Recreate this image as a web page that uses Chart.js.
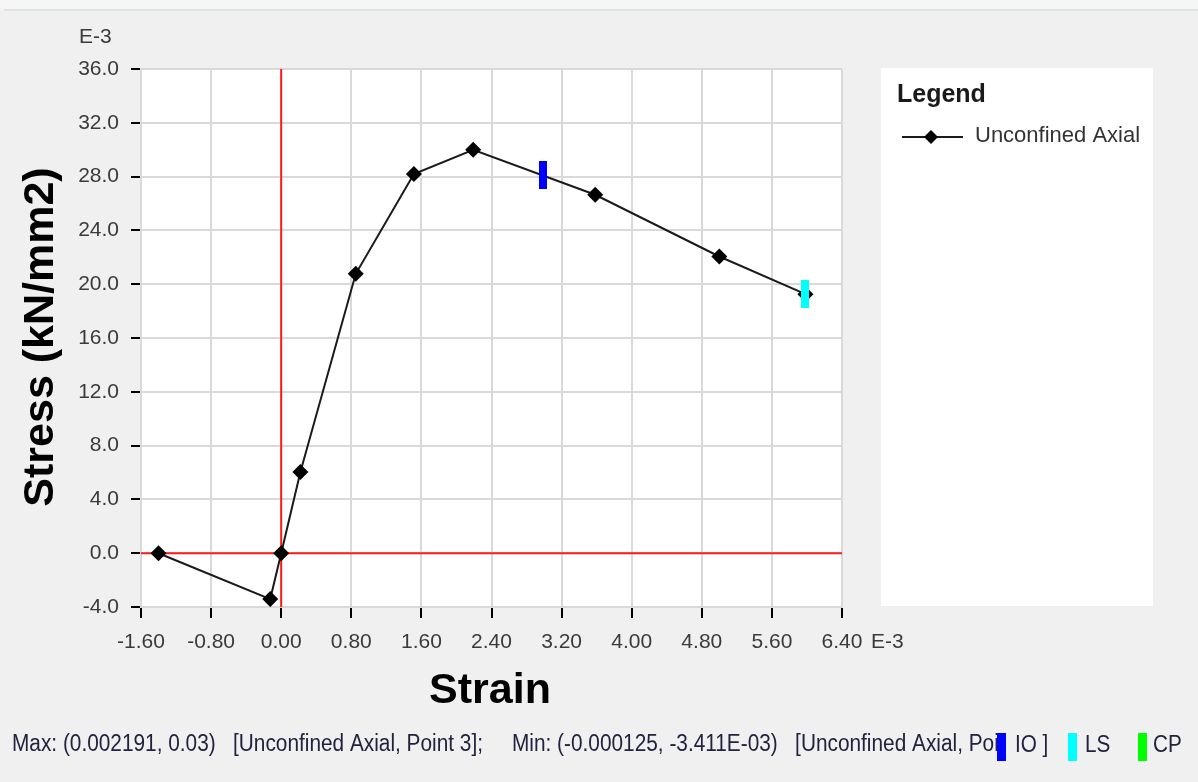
<!DOCTYPE html>
<html><head><meta charset="utf-8">
<script src="https://cdn.jsdelivr.net/npm/chart.js@4.4.0/dist/chart.umd.min.js"></script>
<style>html,body{margin:0;padding:0;background:#f0f0f0;overflow:hidden}canvas{display:block}</style>
</head><body>
<canvas id="c" width="1198" height="782"></canvas>
<script>
// ---- data (strain in E-3, stress in E-3 kN/mm2) ----
const strain = [-1.40, -0.125, 0.0, 0.219, 0.851, 1.514, 2.191, 3.583, 5.00, 5.983];
const stress = [0.0, -3.411, 0.0, 6.03, 20.77, 28.19, 30.0, 26.65, 22.06, 19.26];
const xTickValues = [-1.6, -0.8, 0, 0.8, 1.6, 2.4, 3.2, 4.0, 4.8, 5.6, 6.4];
const yTickValues = [-4, 0, 4, 8, 12, 16, 20, 24, 28, 32, 36];
const ioPoint = [2.985, 28.15];
const lsPoint = [5.983, 19.3];
const seriesName = 'Unconfined Axial';
const statusMax = 'Max: (0.002191, 0.03)   [Unconfined Axial, Point 3];';
const statusMin = 'Min: (-0.000125, -3.411E-03)   [Unconfined Axial, Point 2]';

const FONT = '"Liberation Sans", Arial, sans-serif';

function barImage(color) {
  const c = document.createElement('canvas');
  c.width = 8; c.height = 28;
  const g = c.getContext('2d');
  g.fillStyle = color; g.fillRect(0, 0, 8, 28);
  return c;
}

const decorPlugin = {
  id: 'decor',
  beforeDraw(chart) {
    const ctx = chart.ctx, a = chart.chartArea;
    ctx.save();
    ctx.fillStyle = '#f0f0f0';
    ctx.fillRect(0, 0, chart.width, chart.height);
    ctx.fillStyle = '#f6f6f6';
    ctx.fillRect(0, 0, chart.width, 9);
    ctx.fillStyle = '#dbe3e6';
    ctx.fillRect(4, 9, chart.width - 4, 2);
    ctx.fillStyle = '#ffffff';
    ctx.fillRect(a.left, a.top, a.right - a.left, a.bottom - a.top);
    ctx.restore();
  },
  afterDraw(chart) {
    const ctx = chart.ctx;
    ctx.save();
    // axis unit labels
    ctx.fillStyle = '#3a3a3a';
    ctx.font = '21px ' + FONT;
    ctx.textBaseline = 'alphabetic';
    ctx.textAlign = 'left';
    ctx.fillText('E-3', 79, 43);
    ctx.fillText('E-3', 871, 648);
    // axis titles
    ctx.fillStyle = '#000';
    ctx.font = 'bold 43px ' + FONT;
    ctx.textAlign = 'center';
    ctx.fillText('Strain', 490, 703);
    ctx.save();
    ctx.translate(53, 337);
    ctx.rotate(-Math.PI / 2);
    ctx.fillText('Stress (kN/mm2)', 0, 0);
    ctx.restore();
    // legend panel
    ctx.fillStyle = '#ffffff';
    ctx.fillRect(881, 68, 272, 538);
    ctx.fillStyle = '#1a1a1a';
    ctx.textAlign = 'left';
    ctx.font = 'bold 25px ' + FONT;
    ctx.fillText('Legend', 897, 102);
    ctx.strokeStyle = '#1a1a1a';
    ctx.lineWidth = 2;
    ctx.beginPath(); ctx.moveTo(902, 137); ctx.lineTo(963, 137); ctx.stroke();
    ctx.fillStyle = '#000';
    ctx.beginPath();
    ctx.moveTo(931, 130); ctx.lineTo(938, 137); ctx.lineTo(931, 144); ctx.lineTo(924, 137);
    ctx.closePath(); ctx.fill();
    ctx.fillStyle = '#333';
    ctx.font = '22px ' + FONT;
    ctx.fillText(seriesName, 975, 142);
    // status bar
    ctx.font = '23px ' + FONT;
    ctx.fillStyle = '#22223e';
    const w1 = ctx.measureText(statusMax).width;
    const sx = 471 / w1;
    ctx.save();
    ctx.translate(12, 751); ctx.scale(sx, 1);
    ctx.fillText(statusMax, 0, 0);
    ctx.restore();
    ctx.save();
    ctx.beginPath(); ctx.rect(500, 720, 497, 50); ctx.clip();
    ctx.translate(512, 751); ctx.scale(sx, 1);
    ctx.fillText(statusMin, 0, 0);
    ctx.restore();
    const marks = [[997, '#0000ff', 'IO ]', 1015], [1068, '#00ffff', 'LS', 1085], [1138, '#00ff00', 'CP', 1153]];
    for (const m of marks) {
      ctx.fillStyle = m[1];
      ctx.fillRect(m[0], 733, 9, 28);
      ctx.fillStyle = '#22223e';
      ctx.save();
      ctx.translate(m[3], 752); ctx.scale(0.9, 1);
      ctx.fillText(m[2], 0, 0);
      ctx.restore();
    }
    ctx.restore();
  }
};

const gridCommon = {
  color: '#d9d9d9',
  lineWidth: 2,
  drawTicks: true,
  tickColor: '#000',
  tickWidth: 2
};

new Chart(document.getElementById('c'), {
  type: 'scatter',
  data: {
    datasets: [
      {
        label: seriesName,
        data: strain.map((x, i) => ({ x, y: stress[i] })),
        showLine: true,
        borderColor: '#1a1a1a',
        borderWidth: 2,
        tension: 0,
        pointStyle: 'rectRot',
        pointRadius: 8,
        pointBackgroundColor: '#000',
        pointBorderColor: '#000',
        pointBorderWidth: 0,
        order: 2
      },
      {
        label: 'IO',
        data: [{ x: ioPoint[0], y: ioPoint[1] }],
        pointStyle: barImage('#0000ff'),
        order: 1
      },
      {
        label: 'LS',
        data: [{ x: lsPoint[0], y: lsPoint[1] }],
        pointStyle: barImage('#00ffff'),
        order: 1
      },
      {
        label: 'x0',
        data: [{ x: xTickValues[0], y: 0 }, { x: xTickValues[xTickValues.length - 1], y: 0 }],
        showLine: true, borderColor: '#ff1a1a', borderWidth: 2, pointRadius: 0, order: 5
      },
      {
        label: 'y0',
        data: [{ x: 0, y: yTickValues[0] }, { x: 0, y: yTickValues[yTickValues.length - 1] }],
        showLine: true, borderColor: '#ff1a1a', borderWidth: 2, pointRadius: 0, order: 5
      }
    ]
  },
  options: {
    responsive: false,
    devicePixelRatio: 1,
    animation: false,
    events: [],
    layout: { padding: { top: 69, right: 356, left: 0, bottom: 0 } },
    plugins: { legend: { display: false }, tooltip: { enabled: false } },
    scales: {
      x: {
        type: 'linear',
        min: xTickValues[0],
        max: xTickValues[xTickValues.length - 1],
        afterBuildTicks(s) { s.ticks = xTickValues.map(v => ({ value: v })); },
        afterFit(s) { s.height = 175; },
        grid: Object.assign({ tickLength: 11 }, gridCommon),
        border: { display: true, color: '#d9d9d9', width: 2 },
        ticks: {
          padding: 12,
          color: '#3a3a3a',
          font: { family: FONT, size: 21 },
          maxRotation: 0,
          autoSkip: false,
          callback: v => v.toFixed(2)
        }
      },
      y: {
        type: 'linear',
        min: yTickValues[0],
        max: yTickValues[yTickValues.length - 1],
        afterBuildTicks(s) { s.ticks = yTickValues.map(v => ({ value: v })); },
        afterFit(s) { s.width = 141; },
        grid: Object.assign({ tickLength: 10 }, gridCommon),
        border: { display: true, color: '#d9d9d9', width: 2 },
        ticks: {
          padding: 12,
          color: '#3a3a3a',
          font: { family: FONT, size: 21 },
          autoSkip: false,
          callback: v => v.toFixed(1)
        }
      }
    }
  },
  plugins: [decorPlugin]
});
</script>
</body></html>
